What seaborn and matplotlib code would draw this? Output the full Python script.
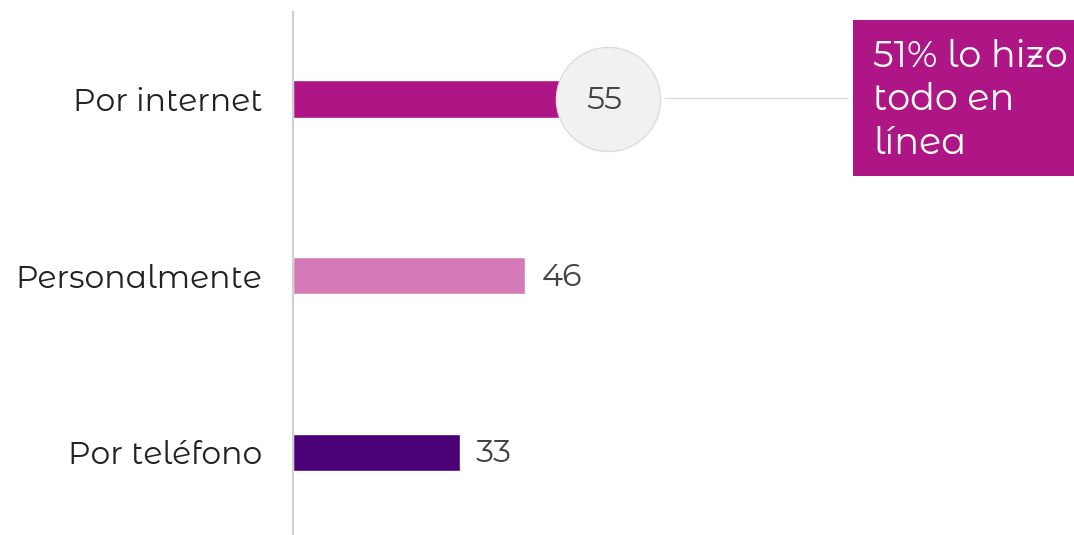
import matplotlib
matplotlib.use("Agg")
import matplotlib.pyplot as plt
import matplotlib.patches as mpatches
import matplotlib.transforms as mtransforms
import seaborn as sns
import pandas as pd

categories = ["Por internet", "Personalmente", "Por teléfono"]
values = [55, 46, 33]
colors = ["#AF1685", "#D47AB6", "#4B0078"]
callout_text = "51% lo hizo\ntodo en\nlínea"

sns.set_theme(style="white")
plt.rcParams["font.family"] = ["Montserrat Alternates", "DejaVu Sans"]
plt.rcParams["font.weight"] = "normal"

W, H = 1074, 535
fig = plt.figure(figsize=(W / 100, H / 100), dpi=100)
ax = fig.add_axes([293 / W, 0, (W - 293) / W, (535 - 12) / H])

df = pd.DataFrame({"cat": categories, "val": values})
sns.barplot(data=df, y="cat", x="val", hue="cat", palette=colors, orient="h",
            width=0.21, ax=ax, legend=False, saturation=1)

ax.set_xlim(0, (W - 293) / 5.05)
ax.set_ylim(2.47, -0.493)
ax.set_xlabel("")
ax.set_ylabel("")
ax.set_xticks([])
for s in ["top", "right", "bottom"]:
    ax.spines[s].set_visible(False)
ax.spines["left"].set_color("#d0d0d0")
ax.spines["left"].set_linewidth(1.5)
ax.tick_params(axis="y", length=0, pad=22, labelsize=22.6, labelcolor="#222222")

# highlight circle behind first value label
trans_c = ax.transData + mtransforms.ScaledTranslation(37 / 100, 0, fig.dpi_scale_trans)
ax.plot([values[0]], [0], marker="o", markersize=75, markerfacecolor="#f1f1f1",
        markeredgecolor="#dddddd", markeredgewidth=1, transform=trans_c,
        clip_on=False, zorder=1)

for i, v in enumerate(values):
    ax.annotate(str(v), xy=(v, i), xytext=(11.5, -1), textcoords="offset points",
                va="center", ha="left", fontsize=23, color="#444444", zorder=3)

# connector line and callout box
fig.add_artist(plt.Line2D([665 / W, 848 / W], [1 - 98 / H, 1 - 98 / H],
                          color="#dddddd", lw=1, transform=fig.transFigure))
fig.add_artist(mpatches.Rectangle((853 / W, 1 - 176 / H), (W - 853) / W, 156 / H,
                                  facecolor=colors[0], edgecolor="none",
                                  transform=fig.transFigure))
fig.text(873 / W, 1 - 100 / H, callout_text, color="white", fontsize=26.4,
         va="center", ha="left", linespacing=1.3)

fig.savefig("out.png", dpi=100)
